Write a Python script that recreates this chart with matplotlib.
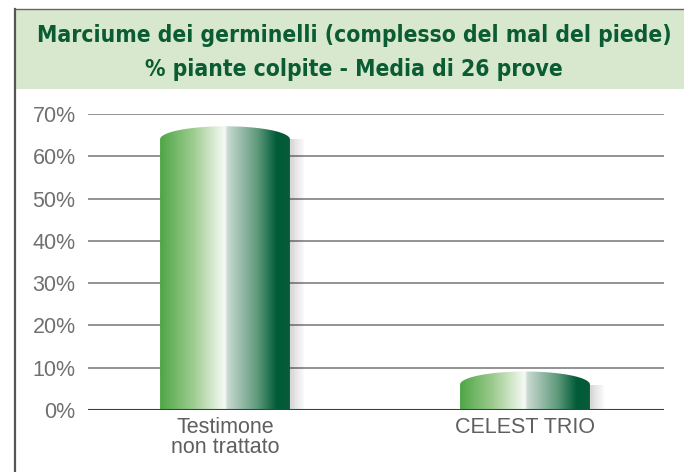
import matplotlib
matplotlib.use("Agg")
import matplotlib.pyplot as plt
from matplotlib.patches import Rectangle, Path, PathPatch
from matplotlib.colors import LinearSegmentedColormap
import numpy as np

# --------- data ---------
categories = ["Testimone\nnon trattato", "CELEST TRIO"]
values = [64, 6]
yticks = [0, 10, 20, 30, 40, 50, 60, 70]
title_lines = ["Marciume dei germinelli (complesso del mal del piede)",
               "% piante colpite - Media di 26 prove"]

W, H = 684, 472
fig = plt.figure(figsize=(W / 100, H / 100), dpi=100)

# title band + frame
fig.patches.append(Rectangle((15 / W, 1 - 89 / H), 1, 80 / H, transform=fig.transFigure,
                             facecolor="#d7e8ce", edgecolor="none", zorder=0))
fig.lines.append(plt.Line2D([15 / W, 15 / W], [0, 1 - 9 / H], transform=fig.transFigure,
                            color="#555555", lw=1.6))
fig.lines.append(plt.Line2D([15 / W, 1], [1 - 9 / H, 1 - 9 / H], transform=fig.transFigure,
                            color="#666666", lw=1.0))
for line, base in zip(title_lines, [42, 76]):
    fig.text(354 / W, 1 - base / H, line, ha="center", va="baseline", color="#0b5c33",
             fontsize=16.4, fontweight="bold", family="DejaVu Sans", fontstretch="condensed")

ax = fig.add_axes([88 / W, 1 - 410 / H, 576 / W, 296 / H])
for s in ax.spines.values():
    s.set_visible(False)
ax.set_yticks(yticks)
ax.set_yticklabels([f"{t}%" for t in yticks], family="Liberation Sans", fontsize=15.5, color="#707070")
ax.tick_params(axis="y", length=0, pad=9)
ax.tick_params(axis="x", length=0, pad=5)
ax.set_xticks(range(len(categories)))
ax.set_xticklabels(categories, family="Liberation Sans", fontsize=15.5, color="#5f5f5f", linespacing=0.95)
for t in yticks[1:]:
    ax.axhline(t, color="#8a8a8a", lw=1.3, zorder=1)
ax.axhline(0, color="#0b5c33", lw=1.5, zorder=5)

# cylinder gradient
cmap = LinearSegmentedColormap.from_list("cyl", [
    (0.0, "#4fa646"), (0.25, "#9ccb8e"), (0.5, "#f7faf5"), (0.52, "#c9d9d1"),
    (0.75, "#5f9a7c"), (0.9, "#005c38"), (1.0, "#0a5a3a")])
grad = np.linspace(0, 1, 256).reshape(1, -1)

bw = 0.433
cap = 3.1
for i, v in enumerate(values):
    x0, x1 = i - bw / 2, i + bw / 2
    # soft shadow on the right
    for k in range(8):
        ax.add_patch(Rectangle((x1, 0), 0.006 * (k + 1), v, facecolor="#000000",
                               alpha=0.018, edgecolor="none", zorder=2))
    t = np.linspace(np.pi, 0, 60)
    ex = i + bw / 2 * np.cos(t)
    ey = v + cap * np.sin(t)
    verts = [(x0, 0)] + list(zip(ex, ey)) + [(x1, 0), (x0, 0)]
    codes = [Path.MOVETO] + [Path.LINETO] * (len(verts) - 2) + [Path.CLOSEPOLY]
    clip = PathPatch(Path(verts, codes), facecolor="none", edgecolor="none")
    ax.add_patch(clip)
    im = ax.imshow(grad, cmap=cmap, aspect="auto", extent=[x0, x1, 0, v + cap],
                   zorder=3, interpolation="bilinear")
    im.set_clip_path(clip)

ax.set_xlim(-0.4567, 1.4633)
ax.set_ylim(0, 70)

plt.savefig("out.png", dpi=100)
